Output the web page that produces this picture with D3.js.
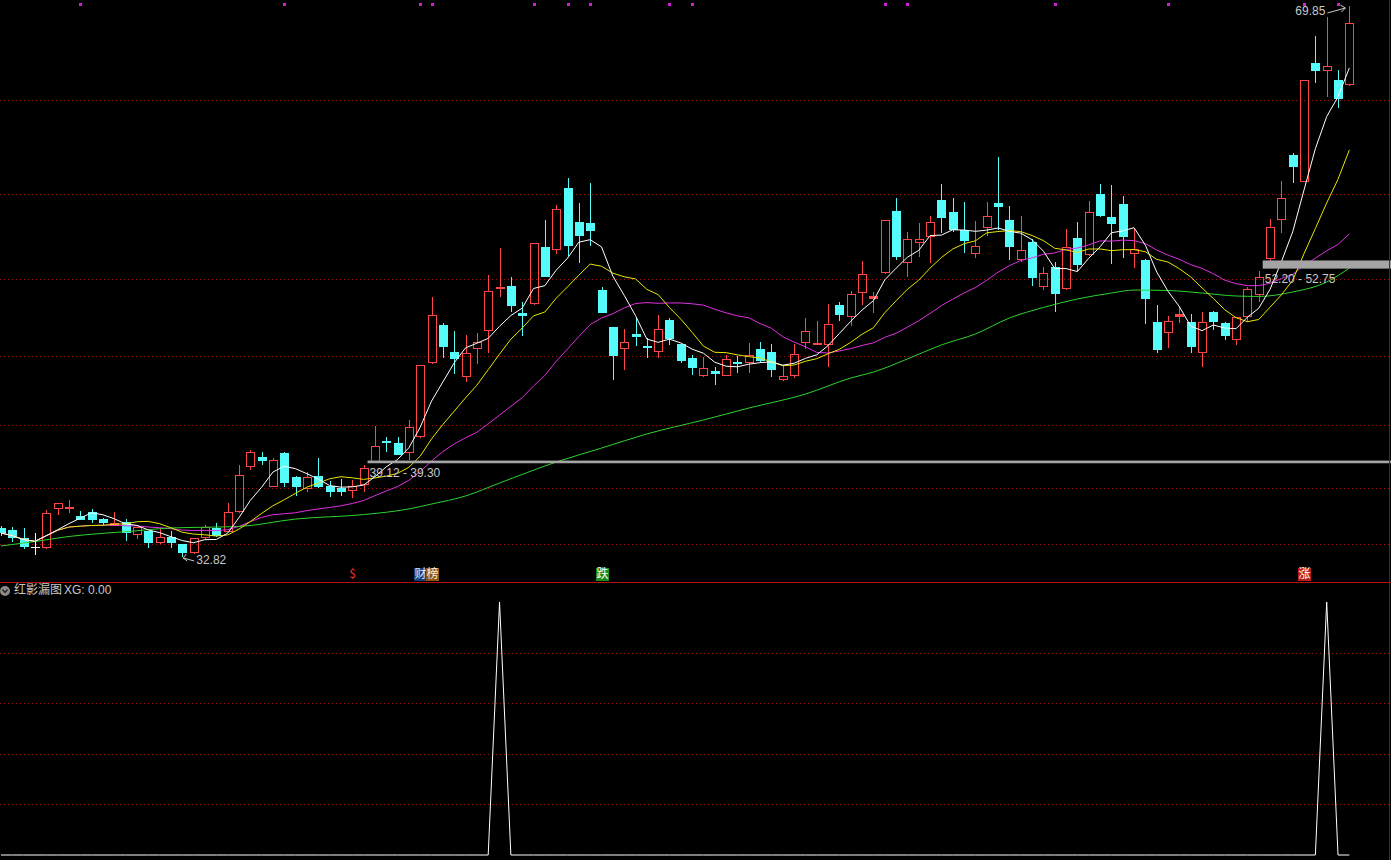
<!DOCTYPE html>
<html><head><meta charset="utf-8">
<script src="https://cdn.jsdelivr.net/npm/d3@7"></script>
<style>html,body{margin:0;padding:0;background:#000;overflow:hidden}</style>
</head><body><svg id="c" width="1391" height="860"></svg>
<script>
// ---------------- DATA ----------------
const opens = [34.77,34.63,34.08,33.51,33.40,36.03,36.10,35.57,35.86,35.35,35.00,35.19,34.30,34.57,33.74,34.18,33.69,33.07,34.08,34.75,
34.52,35.86,38.89,39.52,37.54,39.83,38.18,37.39,38.26,37.61,37.44,37.28,37.66,39.22,40.61,40.46,39.79,40.86,45.84,48.41,
46.60,44.90,46.78,48.01,50.90,51.03,49.20,49.80,53.63,53.45,57.60,55.31,55.28,50.76,48.26,46.78,47.81,47.02,46.58,48.75,
47.13,46.17,45.00,45.34,45.00,45.94,45.84,46.78,46.58,44.71,45.00,47.22,47.15,47.07,49.75,48.97,50.54,50.25,51.88,56.07,
52.56,53.90,54.30,56.81,56.00,54.79,53.16,54.91,56.63,55.47,52.78,53.97,50.98,52.29,50.81,54.24,53.11,57.21,55.65,56.54,
53.18,52.78,48.59,47.85,49.01,48.59,46.51,49.26,48.56,47.40,48.93,50.43,52.83,55.47,59.83,58.04,66.04,65.48,64.87,64.54];
const highs = [34.90,34.86,34.77,34.43,35.98,36.45,36.65,35.93,36.05,35.44,35.86,35.37,34.84,34.60,34.77,34.57,33.72,34.10,34.95,35.08,
36.43,39.00,40.01,39.86,39.45,39.86,38.26,38.51,39.45,37.95,38.06,37.99,39.00,41.64,40.90,40.86,42.03,45.75,50.31,48.56,
48.03,47.74,47.85,51.77,53.56,51.62,49.98,53.92,55.47,56.47,58.27,56.63,57.97,50.94,48.30,48.12,48.97,47.52,49.08,48.86,
47.15,46.39,46.24,45.57,46.39,46.33,47.22,47.29,47.13,45.65,47.11,48.90,48.70,49.80,49.98,50.71,52.73,50.65,55.50,56.92,
54.68,55.28,55.73,57.87,56.92,56.70,55.42,56.70,59.68,56.41,55.73,54.17,52.29,52.67,54.86,55.35,56.76,57.87,57.82,57.08,
54.91,52.85,49.75,49.03,49.69,49.15,49.30,49.33,48.60,48.97,50.94,52.06,55.51,58.11,59.99,64.90,67.83,69.13,65.55,69.85];
const lows = [34.23,33.85,33.36,32.95,33.35,35.64,35.80,35.31,35.10,34.97,34.90,33.91,34.01,33.40,33.70,33.40,32.82,33.00,34.05,34.18,
34.50,35.80,38.67,39.00,37.50,37.54,36.92,37.21,37.45,36.87,36.92,36.76,37.21,39.20,39.90,39.65,39.34,40.80,45.77,46.17,
45.12,44.58,45.79,46.55,50.31,49.30,47.67,49.78,51.64,53.18,53.05,52.60,53.72,49.20,44.71,45.39,47.00,46.17,46.17,47.07,
45.86,45.05,44.94,44.38,44.98,45.20,45.20,45.84,44.90,44.68,44.83,46.78,47.07,45.61,48.70,48.34,49.75,49.20,51.85,52.78,
51.66,53.00,52.60,54.61,54.68,53.23,52.89,54.39,54.79,52.78,52.67,51.03,50.76,49.30,50.78,52.06,53.08,55.70,52.51,52.89,
52.22,48.48,46.51,46.84,48.52,46.51,45.57,48.07,47.40,47.07,48.63,49.98,52.67,54.61,57.97,58.00,64.69,63.71,62.97,64.50];
const closes = [34.43,34.08,33.47,33.51,35.76,36.43,36.15,35.31,35.31,35.08,35.10,34.41,34.82,33.78,34.18,33.74,33.11,34.08,34.82,34.25,
35.82,38.33,39.86,39.29,39.34,37.77,37.50,38.18,37.50,37.17,37.21,37.61,38.78,40.30,40.50,39.67,41.54,45.72,49.08,46.91,
46.10,46.55,47.29,50.71,50.98,49.71,49.03,53.90,51.66,56.19,53.72,54.41,54.75,49.24,46.35,47.29,47.58,46.88,48.12,47.45,
45.99,45.50,45.50,45.12,46.10,45.79,46.39,46.01,45.39,44.98,46.44,48.03,47.22,48.48,49.08,50.49,51.84,50.35,55.47,53.00,
54.17,54.17,55.31,55.62,54.79,54.07,53.74,55.73,56.32,53.67,53.45,51.55,51.88,50.47,53.67,52.44,56.02,55.73,55.20,54.30,
53.50,50.14,46.73,48.70,49.15,46.95,48.63,48.63,47.67,48.93,50.81,51.62,55.02,56.92,59.01,64.87,65.48,65.81,63.60,68.68];

const greenIdx = [0,3,6,9,11,15,18,21,26,32,36,38,41,44,49,53,57,62,66,71,75,77,80,83,86,89,92,95,98,100,103,106,109,111,114,117,119];
const greenVal = [33.56,33.86,34.20,34.41,34.52,34.77,34.82,34.87,35.37,35.67,36.05,36.38,36.92,37.79,39.20,40.14,41.09,42.03,42.83,43.77,44.85,45.25,46.13,47.07,47.81,48.88,49.59,50.16,50.56,50.76,50.73,50.56,50.36,50.33,50.63,51.30,52.24];

const gridPrices = [33.69,37.46,41.69,46.33,51.50,57.22,63.53];
const signalDots = [7,25,37,38,47,50,52,59,61,78,80,93,103,115,118];
const markerIdx = [31,37,38,53,115];
const markerText = ["$","财","榜","跌","涨"];
const levelStart = [32,111];
const levelLow = [39.12,52.20];
const levelHigh = [39.30,52.75];
const extremeHigh = {idx:119, value:69.85};
const extremeLow = {idx:16, value:32.82};
const xgValues = [0,0,0,0,0,0,0,0,0,0,0,0,0,0,0,0,0,0,0,0,
0,0,0,0,0,0,0,0,0,0,0,0,0,0,0,0,0,0,0,0,
0,0,0,0,1,0,0,0,0,0,0,0,0,0,0,0,0,0,0,0,
0,0,0,0,0,0,0,0,0,0,0,0,0,0,0,0,0,0,0,0,
0,0,0,0,0,0,0,0,0,0,0,0,0,0,0,0,0,0,0,0,
0,0,0,0,0,0,0,0,0,0,0,0,0,0,0,0,0,1,0,0];
const xgGrid = [0.2,0.4,0.6,0.8];
const panelTitle = "红影漏图";
const panelValue = "XG: 0.00";

// ---------------- STYLE ----------------
const UP = "#ff4646", DOWN = "#54fcfc", FLAT = "#ffffff";
const GRID = "#9c1414";
const TXT = "#c8c8c8";
const FONT = "'Liberation Sans', Arial, sans-serif";
const CJK = "'Noto Sans CJK SC', sans-serif";
const markerStyle = {"$":{bg:null,fg:"#ff2a2a"},"财":{bg:"#173f7c",fg:"#dfe8ff"},"榜":{bg:"#8a5518",fg:"#fff0d8"},"跌":{bg:"#1a8a1a",fg:"#ffffff"},"涨":{bg:"#b81c1c",fg:"#ffffff"}};

// ---------------- SCALES ----------------
const N = closes.length;
const svg = d3.select("#c");
svg.append("rect").attr("width",1391).attr("height",860).attr("fill","#000");
const x = d3.scaleLinear().domain([0,N-1]).range([0.97,1349.36]);
const y = d3.scaleLinear().domain([32.82,69.85]).range([557,6]);
const yl = d3.scaleLinear().domain([0,1]).range([855,602]);
const crisp = v => Math.round(v)+0.5;

// grid main
svg.append("g").selectAll("line").data(gridPrices).join("line")
  .attr("x1",0).attr("x2",1389).attr("y1",d=>crisp(y(d))).attr("y2",d=>crisp(y(d)))
  .attr("stroke",GRID).attr("stroke-dasharray","1,3");

// candles
const gc = svg.append("g");
d3.range(N).forEach(i=>{
  const o=opens[i], c=closes[i], h=highs[i], l=lows[i];
  const cx=Math.round(x(i));
  const top=Math.round(y(Math.max(o,c))), bot=Math.round(y(Math.min(o,c)));
  const yh=Math.round(y(h)), ylo=Math.round(y(l));
  if(c>o){
    gc.append("line").attr("x1",cx+0.5).attr("x2",cx+0.5).attr("y1",yh).attr("y2",top).attr("stroke",UP);
    gc.append("line").attr("x1",cx+0.5).attr("x2",cx+0.5).attr("y1",bot).attr("y2",ylo).attr("stroke",UP);
    if(bot-top<=2){
      gc.append("rect").attr("x",cx-4).attr("y",top).attr("width",9).attr("height",Math.max(1,bot-top+1)).attr("fill",UP);
    } else {
      gc.append("rect").attr("x",cx-3.5).attr("y",top+0.5).attr("width",8).attr("height",bot-top-1)
        .attr("fill","none").attr("stroke",UP);
    }
  } else {
    const col = c<o?DOWN:FLAT;
    gc.append("line").attr("x1",cx+0.5).attr("x2",cx+0.5).attr("y1",yh).attr("y2",ylo).attr("stroke",col);
    gc.append("rect").attr("x",cx-4).attr("y",top).attr("width",9).attr("height",Math.max(1,bot-top)).attr("fill",col);
  }
});

// moving averages from closes
function ma(n){ return closes.map((c,i)=>{ const s=closes.slice(Math.max(0,i-n+1),i+1); return d3.mean(s); }); }
const line = d3.line().x((d,i)=>x(i)).y(d=>y(d));
const gl = svg.append("g").attr("fill","none").attr("stroke-width",1);
gl.append("path").attr("d",line(ma(20))).attr("stroke","#e030e0");
gl.append("path").attr("d",d3.line().curve(d3.curveMonotoneX).x((d,k)=>x(greenIdx[k])).y(d=>y(d))(greenVal)).attr("stroke","#2ed22e");
gl.append("path").attr("d",line(ma(10))).attr("stroke","#e6e600");
gl.append("path").attr("d",line(ma(5))).attr("stroke","#ffffff");

// level bars
levelStart.forEach((s,k)=>{
  const y0=y(levelHigh[k]), y1=y(levelLow[k]);
  svg.append("rect").attr("x",x(s)+4).attr("y",y0).attr("width",1391-x(s)-4).attr("height",Math.max(2,y1-y0)).attr("fill","#a4a4a4");
  svg.append("text").attr("x",x(s)+6).attr("y",y1+11).attr("dominant-baseline","middle")
    .attr("font-family",FONT).attr("font-size",12).attr("fill",TXT)
    .text(levelLow[k].toFixed(2)+" - "+levelHigh[k].toFixed(2));
});

// signal dots
svg.append("g").selectAll("rect").data(signalDots).join("rect")
  .attr("x",d=>Math.round(x(d))-1).attr("y",3).attr("width",3).attr("height",3).attr("fill","#d21ed2");

// extremes
const hx=x(extremeHigh.idx), hy=y(extremeHigh.value);
svg.append("text").attr("x",hx-54).attr("y",hy+6).attr("dominant-baseline","middle")
  .attr("font-family",FONT).attr("font-size",12).attr("fill",TXT).text(extremeHigh.value.toFixed(2));
svg.append("path").attr("d",`M${hx-22},${hy+7} L${hx-4},${hy+2} M${hx-9},${hy-1} L${hx-4},${hy+2} L${hx-8},${hy+6}`)
  .attr("stroke",TXT).attr("fill","none");
const lx=x(extremeLow.idx), ly=y(extremeLow.value);
svg.append("path").attr("d",`M${lx+12},${ly+4} L${lx+1},${ly+1} M${lx+4},${ly-3} L${lx+1},${ly+1} L${lx+5},${ly+4}`)
  .attr("stroke",TXT).attr("fill","none");
svg.append("text").attr("x",lx+14).attr("y",ly+4).attr("dominant-baseline","middle")
  .attr("font-family",FONT).attr("font-size",12).attr("fill",TXT).text(extremeLow.value.toFixed(2));

// markers
markerIdx.forEach((m,k)=>{
  const t=markerText[k], st=markerStyle[t], cx=Math.round(x(m));
  if(st.bg) svg.append("rect").attr("x",cx-6).attr("y",568).attr("width",13).attr("height",13).attr("fill",st.bg);
  svg.append("text").attr("x",cx+0.5).attr("y",575).attr("text-anchor","middle").attr("dominant-baseline","middle")
    .attr("font-family",CJK).attr("font-size",12).attr("fill",st.fg).text(t);
});

// separator & border
svg.append("line").attr("x1",0).attr("x2",1391).attr("y1",582.5).attr("y2",582.5).attr("stroke","#b01010");
svg.append("line").attr("x1",1389.5).attr("x2",1389.5).attr("y1",0).attr("y2",860).attr("stroke","#8a1010");

// lower panel
svg.append("g").selectAll("line").data(xgGrid).join("line")
  .attr("x1",0).attr("x2",1389).attr("y1",d=>crisp(yl(d))).attr("y2",d=>crisp(yl(d)))
  .attr("stroke",GRID).attr("stroke-dasharray","1,3");
svg.append("path").attr("d",d3.line().x((d,i)=>x(i)).y(d=>yl(d))(xgValues))
  .attr("fill","none").attr("stroke","#ffffff").attr("stroke-width",1);

// panel title
svg.append("circle").attr("cx",5).attr("cy",591).attr("r",5).attr("fill","#8a8a8a");
svg.append("path").attr("d","M2.5,589.5 L5,592.5 L7.5,589.5").attr("stroke","#222").attr("stroke-width",1.3).attr("fill","none");
svg.append("text").attr("x",14).attr("y",591).attr("dominant-baseline","middle")
  .attr("font-family",CJK).attr("font-size",12).attr("fill",TXT).text(panelTitle);
svg.append("text").attr("x",64).attr("y",591).attr("dominant-baseline","middle")
  .attr("font-family",FONT).attr("font-size",12).attr("fill",TXT).text(panelValue);
</script></body></html>
